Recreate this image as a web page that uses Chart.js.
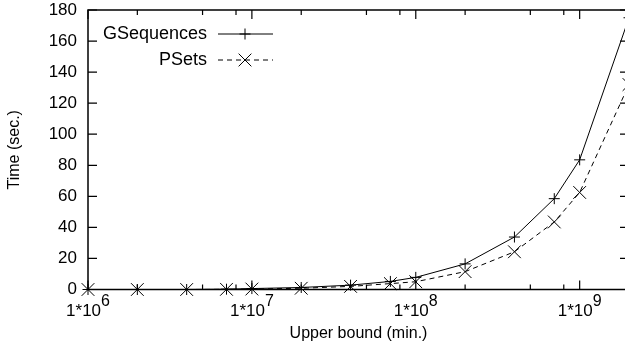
<!DOCTYPE html>
<html><head><meta charset="utf-8">
<script src="https://cdn.jsdelivr.net/npm/chart.js@4"></script>
<style>html,body{margin:0;padding:0;overflow:hidden;background:#fff}#wrap{width:625px;height:351px}</style>
</head><body><div id="wrap"><canvas id="c" width="625" height="351"></canvas></div>
<script>
const xValues = [1e6, 2e6, 4e6, 7e6, 1e7, 2e7, 4e7, 7e7, 1e8, 2e8, 4e8, 7e8, 1e9, 2e9];
const gsequences = [0, 0, 0, 0.2, 0.6, 1.3, 2.8, 5.2, 7.8, 16.5, 33.8, 58.5, 83.5, 175];
const psets = [0, 0, 0, 0.1, 0.3, 0.8, 2.0, 3.8, 5.0, 11.5, 24.3, 43.5, 62.5, 132];
const yTicks = [0, 20, 40, 60, 80, 100, 120, 140, 160, 180];
const xMajorTicks = [1e6, 1e7, 1e8, 1e9];
const xMajorBase = ['1*10', '1*10', '1*10', '1*10'];
const xMajorExp = ['6', '7', '8', '9'];
const xMinorTicks = [2e6, 5e6, 8e6, 2e7, 5e7, 8e7, 2e8, 5e8, 8e8];

const FONT = '"Liberation Sans", Arial, Helvetica, sans-serif';
const RIGHT_OVERHANG = 4;
const PLOT_TOP = 10;

const extendPlugin = {
  id: 'extend',
  afterLayout(chart) {
    const x = chart.scales.x;
    x.right += RIGHT_OVERHANG;
    x.width += RIGHT_OVERHANG;
    chart.chartArea.right += RIGHT_OVERHANG;
    chart.chartArea.width += RIGHT_OVERHANG;
    x.configure();
    const y = chart.scales.y;
    const d = y.top - PLOT_TOP;
    y.top = PLOT_TOP;
    y.height += d;
    chart.chartArea.top = PLOT_TOP;
    chart.chartArea.height += d;
    y.configure();
  }
};

const framePlugin = {
  id: 'frame',
  afterDraw(chart) {
    const {ctx, chartArea: a, scales: {x, y}} = chart;
    ctx.save();
    ctx.setLineDash([]);
    ctx.strokeStyle = '#000';
    ctx.lineWidth = 1.5;
    ctx.strokeRect(a.left, a.top, a.right - a.left, a.bottom - a.top);
    ctx.lineWidth = 1.2;
    ctx.beginPath();
    for (const v of yTicks) {
      const p = y.getPixelForValue(v);
      ctx.moveTo(a.left, p); ctx.lineTo(a.left + 9, p);
      ctx.moveTo(a.right, p); ctx.lineTo(a.right - 9, p);
    }
    for (const v of xMajorTicks) {
      const p = x.getPixelForValue(v);
      ctx.moveTo(p, a.bottom); ctx.lineTo(p, a.bottom - 9);
      ctx.moveTo(p, a.top); ctx.lineTo(p, a.top + 9);
    }
    for (const v of xMinorTicks) {
      const p = x.getPixelForValue(v);
      ctx.moveTo(p, a.bottom); ctx.lineTo(p, a.bottom - 5);
      ctx.moveTo(p, a.top); ctx.lineTo(p, a.top + 5);
    }
    ctx.stroke();
    ctx.fillStyle = '#000';
    ctx.textBaseline = 'alphabetic';
    ctx.textAlign = 'left';
    xMajorTicks.forEach((v, i) => {
      const p = x.getPixelForValue(v);
      ctx.font = '17px ' + FONT;
      const w1 = ctx.measureText(xMajorBase[i]).width;
      ctx.font = '16px ' + FONT;
      const w2 = ctx.measureText(xMajorExp[i]).width;
      const s = p - (w1 + w2) / 2;
      ctx.font = '17px ' + FONT;
      ctx.fillText(xMajorBase[i], s, 316);
      ctx.font = '16px ' + FONT;
      ctx.fillText(xMajorExp[i], s + w1, 305.5);
    });
    ctx.restore();
  }
};

const legendPlugin = {
  id: 'gLegend',
  afterDraw(chart) {
    const {ctx, chartArea: a} = chart;
    ctx.save();
    chart.data.datasets.forEach((ds, i) => {
      const yy = a.top + 24 + i * 26;
      ctx.fillStyle = '#000';
      ctx.font = '18px ' + FONT;
      ctx.textAlign = 'right';
      ctx.textBaseline = 'middle';
      ctx.fillText(ds.label, a.left + 119, yy + 0.5);
      ctx.strokeStyle = ds.borderColor;
      ctx.lineWidth = ds.borderWidth;
      ctx.setLineDash(ds.borderDash || []);
      ctx.beginPath();
      ctx.moveTo(a.left + 130, yy); ctx.lineTo(a.left + 185, yy);
      ctx.stroke();
      ctx.setLineDash([]);
      Chart.helpers.drawPoint(ctx, {pointStyle: ds.pointStyle, radius: ds.pointRadius, rotation: 0, borderWidth: 1}, a.left + 157, yy);
    });
    ctx.restore();
  }
};

new Chart(document.getElementById('c'), {
  type: 'line',
  data: {
    datasets: [
      {
        label: 'GSequences',
        data: xValues.map((v, i) => ({x: v, y: gsequences[i]})),
        borderColor: '#000', backgroundColor: '#000', borderWidth: 1,
        pointStyle: 'cross', pointRadius: 5.5, pointBorderWidth: 1,
        pointBorderColor: '#000', tension: 0, fill: false, clip: false
      },
      {
        label: 'PSets',
        data: xValues.map((v, i) => ({x: v, y: psets[i]})),
        borderColor: '#000', backgroundColor: '#000', borderWidth: 1, borderDash: [5, 4],
        pointStyle: 'crossRot', pointRadius: 9, pointBorderWidth: 1,
        pointBorderColor: '#000', tension: 0, fill: false, clip: false
      }
    ]
  },
  options: {
    responsive: false,
    animation: false,
    devicePixelRatio: 1,
    layout: {autoPadding: false, padding: {left: 0, right: 0, top: 10, bottom: 0}},
    plugins: {legend: {display: false}, tooltip: {enabled: false}},
    scales: {
      x: {
        type: 'logarithmic', min: 1e6, max: 2e9,
        grid: {display: false, drawTicks: false},
        border: {display: false},
        ticks: {display: false},
        title: {display: true, text: 'Upper bound (min.)', color: '#000', font: {family: FONT, size: 16}, padding: {top: 0, bottom: 8}},
        afterFit(s) { s.height = 61.5; }
      },
      y: {
        min: 0, max: 180,
        grid: {display: false, drawTicks: false},
        border: {display: false},
        ticks: {stepSize: 20, color: '#000', padding: 11, font: {family: FONT, size: 17}},
        title: {display: true, text: 'Time (sec.)', color: '#000', font: {family: FONT, size: 16}, padding: {top: 5, bottom: 0}},
        afterFit(s) { s.width = 88; }
      }
    }
  },
  plugins: [extendPlugin, framePlugin, legendPlugin]
});
</script>
</body></html>
